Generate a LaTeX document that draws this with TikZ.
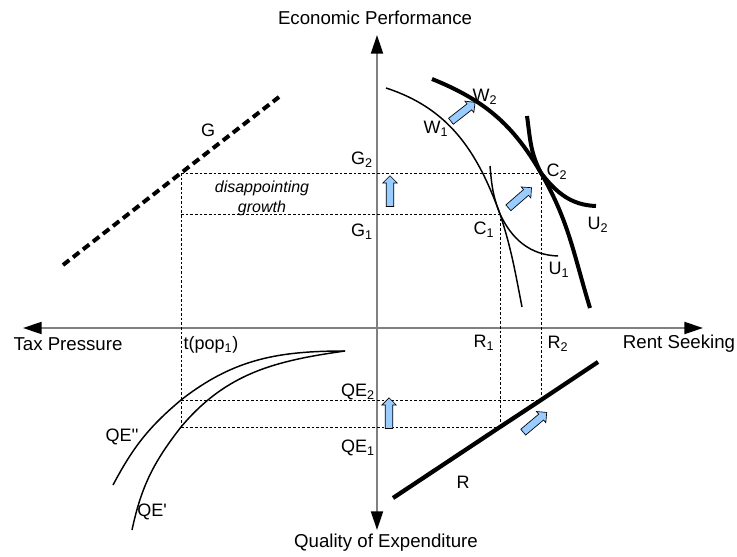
\documentclass[tikz,border=0pt]{standalone}
\usepackage{fontspec}
\setmainfont{Liberation Sans}
\usetikzlibrary{arrows.meta,shapes.arrows}
\definecolor{shiftblue}{RGB}{153,204,255}

\tikzset{
  axis/.style={draw=gray, line width=1.5pt,
    {Triangle[length=14pt,width=9pt,color=black]}-{Triangle[length=14pt,width=9pt,color=black]}},
  guide/.style={line width=0.6pt, dash pattern=on 2pt off 1.5pt},
  thincurve/.style={line width=1.1pt},
  thickcurve/.style={line width=3pt},
  shiftarrow/.style={single arrow, draw, fill=shiftblue, line width=0.5pt,
    single arrow head extend=2.6pt, inner xsep=0pt, inner ysep=2.6pt,
    minimum height=23pt},
  lbl/.style={font=\fontsize{13.5}{15}\selectfont},
  axlbl/.style={font=\fontsize{14}{16}\selectfont}
}

\begin{document}
\begin{tikzpicture}[x=0.75pt,y=-0.75pt]
\useasboundingbox (0,0) rectangle (737,556);

% Axes
\coordinate (west) at (23,328);
\coordinate (east) at (703,328);
\coordinate (north) at (377,35);
\coordinate (south) at (377,530);
\draw[axis] (west) -- (east);
\draw[axis] (south) -- (north);

\node[axlbl] (ep) at (375,18) {Economic Performance};
\node[axlbl] (qoe) at (386,543) {Quality of Expenditure};
\node[axlbl] (tp) at (68,344) {Tax Pressure};
\node[axlbl] (rs) at (679,344) {Rent Seeking};

% Points
\coordinate (pG2) at (181,173);
\coordinate (pC2) at (541,173);
\coordinate (pC1) at (500,214);
\coordinate (pQE2) at (181,400);
\coordinate (pQE1) at (181,427);
\coordinate (pR2) at (541,400);
\coordinate (pR1) at (500,427);

% Dashed guides
\draw[guide] (pG2) -- (pC2);
\draw[guide] (pC1 -| pG2) -- (pC1);
\draw[guide] (pG2) -- (pQE1);
\draw[guide] (pC1) -- (pR1);
\draw[guide] (pC2) -- (pR2);
\draw[guide] (pQE2) -- (pR2);
\draw[guide] (pQE1) -- (pR1);

% G line
\draw[line width=3pt, dash pattern=on 6pt off 3.5pt] (63,265) -- (pG2) -- (279,97);
\node[lbl] (G) at (208,130) {G};

% Frontiers and indifference curves
\draw[thincurve] (386,88) to[out=-18,in=110] (pC1) to[out=-72,in=101] (522,307);
\draw[thickcurve] (432,79) to[out=-22,in=120] (pC2) to[out=-60,in=107] (590,308);
\draw[thincurve] (490,166) to[out=-85,in=112] (pC1) to[out=-65,in=178] (558,256);
\draw[thickcurve] (527,116) to[out=-82,in=118] (pC2) to[out=-52,in=178] (596,206);

% QE curves
\draw[thincurve] (113,485) to[out=62,in=-140] (pQE2) to[out=38,in=180] (345,351);
\draw[thincurve] (132,530) to[out=78,in=-128] (pQE1) to[out=50,in=188] (345,351);

% R line
\draw[line width=3.2pt] (393,498) -- (pR1) -- (pR2) -- (598,362);

% Shift arrows
\node[shiftarrow, rotate=38] (shiftW) at (461.5,113) {};
\node[shiftarrow, rotate=41] (shiftC) at (518.5,199) {};
\node[shiftarrow, rotate=90] (shiftG) at (390,193) {};
\node[shiftarrow, rotate=90] (shiftQE) at (389,415) {};
\node[shiftarrow, rotate=40] (shiftR) at (533.5,423.5) {};

% Labels
\node[lbl] (lG2) at (362,160) {G\textsubscript{2}};
\node[lbl] (lG1) at (362,232) {G\textsubscript{1}};
\node[font=\fontsize{12}{15}\selectfont\itshape, align=center] (dg) at (262,198) {disappointing\\growth};
\node[lbl] (lW1) at (436,129) {W\textsubscript{1}};
\node[lbl] (lW2) at (485,97) {W\textsubscript{2}};
\node[lbl] (lC1) at (484,230) {C\textsubscript{1}};
\node[lbl] (lC2) at (557,172) {C\textsubscript{2}};
\node[lbl] (lU1) at (559,270) {U\textsubscript{1}};
\node[lbl] (lU2) at (598,225) {U\textsubscript{2}};
\node[lbl] (ltp) at (211,345) {t(pop\textsubscript{1})};
\node[lbl] (lR1) at (484,343) {R\textsubscript{1}};
\node[lbl] (lR2) at (558,344) {R\textsubscript{2}};
\node[lbl] (lR) at (463,482) {R};
\node[lbl] (lQE2) at (358,392) {QE\textsubscript{2}};
\node[lbl] (lQE1) at (358,448) {QE\textsubscript{1}};
\node[lbl] (lQEb) at (122,437) {QE\textquotesingle\textquotesingle};
\node[lbl] (lQEa) at (152,512) {QE\textquotesingle};
\end{tikzpicture}
\end{document}
